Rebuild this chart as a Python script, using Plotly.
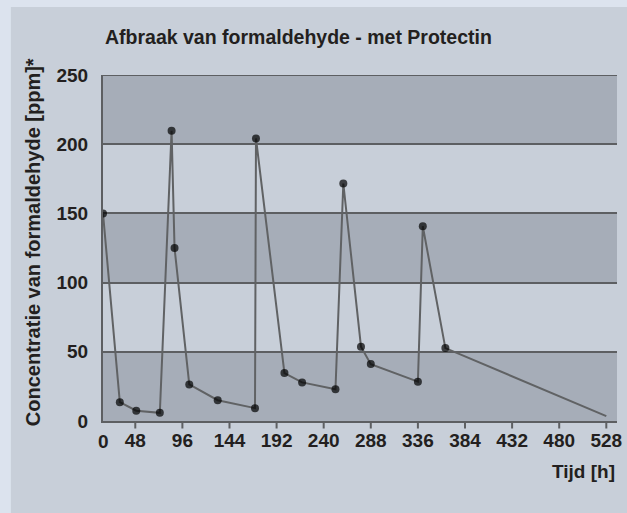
import plotly.graph_objects as go

# ---- data ----
hours = [0, 25, 49, 73, 85, 88, 103, 132, 170, 171, 200, 218, 252, 260, 278, 288, 336, 341, 364, 528]
ppm = [150, 13.6, 7.4, 5.9, 209.7, 125, 26.4, 15, 9.3, 204.2, 34.6, 27.9, 23, 171.6, 53.7, 41.1, 28.4, 140.7, 52.7, 3.5]
has_marker = [True] * 19 + [False]

x_ticks = [48, 96, 144, 192, 240, 288, 336, 384, 432, 480, 528]
x_tick_labels = [str(t) for t in x_ticks]
y_ticks = [0, 50, 100, 150, 200, 250]
y_tick_labels = [str(t) for t in y_ticks]
dark_bands = [(0, 50), (100, 150), (200, 250)]

title_text = "Afbraak van formaldehyde - met Protectin"
y_title_text = "Concentratie van formaldehyde [ppm]*"
x_title_text = "Tijd [h]"

# The original chart compresses the 0-48 h interval; reproduce that axis
AXIS_START = 15.1


def axis_pos(h):
    return h if h >= 48 else AXIS_START + h * (48 - AXIS_START) / 48


OUTER = "#dce3ee"
PANEL = "#c8cfd9"
BAND = "#a6adb8"
GRID = "#5d5f62"
LINE = "#606264"
TEXT = "#231f20"
FONT = "Liberation Sans, Arial, sans-serif"

W, H = 627, 513
ML, MR, MT, MB = 103, 5, 75, 92
PW = W - ML - MR
PH = H - MT - MB


def px_x(px):
    return (px - ML) / PW


def px_y(py):
    return (H - MB - py) / PH


fig = go.Figure()

fig.add_trace(go.Scatter(
    x=[axis_pos(h) for h in hours],
    y=ppm,
    mode="lines+markers",
    line=dict(color=LINE, width=2),
    marker=dict(color="black", size=[8 if m else 0 for m in has_marker], line=dict(width=0)),
    showlegend=False,
    hoverinfo="x+y",
))

shapes = [
    dict(type="rect", xref="paper", yref="paper", x0=px_x(10), x1=px_x(640),
         y0=px_y(530), y1=px_y(7), fillcolor=PANEL, line=dict(width=0), layer="below"),
]
for lo, hi in dark_bands:
    shapes.append(dict(type="rect", xref="paper", yref="y", x0=0, x1=1, y0=lo, y1=hi,
                       fillcolor=BAND, line=dict(width=0), layer="below"))
shapes.append(dict(type="line", xref="paper", yref="y", x0=0, x1=1, y0=250, y1=250,
                   line=dict(color=GRID, width=2), layer="below"))
# x tick marks below the axis
for t in x_ticks:
    shapes.append(dict(type="line", xref="x", yref="paper", x0=t, x1=t,
                       y0=0, y1=px_y(428.5), line=dict(color=GRID, width=2)))

annotations = [
    dict(text=title_text, xref="paper", yref="paper", x=px_x(103), y=px_y(37),
         xanchor="left", yanchor="middle", showarrow=False,
         font=dict(family=FONT, size=19.5, color=TEXT, weight="bold")),
    dict(text=y_title_text, xref="paper", yref="paper", x=px_x(32), y=px_y(242.5),
         xanchor="center", yanchor="middle", textangle=-90, showarrow=False,
         font=dict(family=FONT, size=20, color=TEXT, weight="bold")),
    dict(text=x_title_text, xref="paper", yref="paper", x=px_x(622), y=px_y(471),
         xanchor="right", yanchor="middle", showarrow=False,
         font=dict(family=FONT, size=19, color=TEXT, weight="bold")),
    dict(text="0", xref="x", yref="paper", x=AXIS_START, y=px_y(441.5),
         xanchor="center", yanchor="middle", showarrow=False,
         font=dict(family=FONT, size=19, color=TEXT, weight="bold")),
]

fig.update_layout(
    width=W, height=H,
    margin=dict(l=ML, r=MR, t=MT, b=MB),
    paper_bgcolor=OUTER,
    plot_bgcolor="rgba(0,0,0,0)",
    shapes=shapes,
    annotations=annotations,
    font=dict(family=FONT, color=TEXT),
    xaxis=dict(
        range=[AXIS_START, 538.9],
        tickmode="array", tickvals=x_ticks, ticktext=x_tick_labels,
        ticks="",
        showline=True, linecolor=GRID, linewidth=2,
        showgrid=False, zeroline=False,
        tickfont=dict(family=FONT, size=19, color=TEXT, weight="bold"),
        ticklabelstandoff=1, ticklabeloverflow="allow",
    ),
    yaxis=dict(
        range=[0, 250],
        tickmode="array", tickvals=y_ticks, ticktext=y_tick_labels,
        ticks="", showline=True, linecolor=GRID, linewidth=2,
        showgrid=True, gridcolor=GRID, gridwidth=2, zeroline=False,
        tickfont=dict(family=FONT, size=19, color=TEXT, weight="bold"),
        ticklabelstandoff=9,
    ),
)

fig.write_html(
    "out.html",
    config={"displayModeBar": False},
    post_script="document.body.style.margin='0';document.body.style.overflow='hidden';"
                "document.documentElement.style.overflow='hidden';",
)
